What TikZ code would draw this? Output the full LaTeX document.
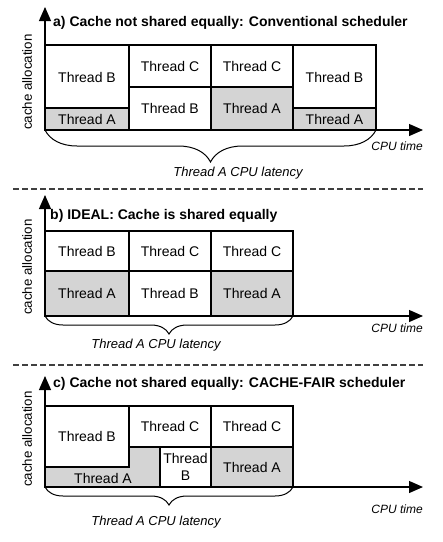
\documentclass[tikz,border=0pt]{standalone}
\usepackage{fontspec}
\setmainfont{Liberation Sans}
\usepackage{tikz}
\usetikzlibrary{arrows.meta,decorations.pathreplacing}

\begin{document}
\begin{tikzpicture}[x=1pt, y=-1pt,
    cell/.style={draw, line width=1.5pt},
    shaded/.style={cell, fill=black!17},
    axis/.style={line width=1.2pt, -{Triangle[length=14pt, width=12pt]}},
    thr/.style={font=\fontsize{14}{16.5}\selectfont, inner sep=0pt, align=center},
    ttl/.style={font=\bfseries\fontsize{14}{16}\selectfont, anchor=west, inner sep=0pt},
    ylab/.style={font=\fontsize{13.3}{15}\selectfont, rotate=90, anchor=west, inner sep=0pt},
    xlab/.style={font=\itshape\fontsize{12}{14}\selectfont, anchor=east, inner sep=0pt},
    lat/.style={font=\itshape\fontsize{13}{15}\selectfont, inner sep=0pt},
    sep/.style={line width=1.3pt, black!75, dash pattern=on 6pt off 3pt},
    brc/.style={decorate, line width=1pt, decoration={brace, amplitude=#1}}]
  \useasboundingbox (0,0) rectangle (443,542);

  % a) conventional scheduler
  \coordinate (oa) at (45,130);
  \coordinate (ya) at (45,7);
  \coordinate (xa) at (423,130);
  \coordinate (ea) at (376,130);
  \draw[cell] (45,45) rectangle (129,108);
  \draw[shaded] (45,108) rectangle (129,130);
  \draw[cell] (129,45) rectangle (211,87);
  \draw[cell] (129,87) rectangle (211,130);
  \draw[cell] (211,45) rectangle (293,87);
  \draw[shaded] (211,87) rectangle (293,130);
  \draw[cell] (293,45) rectangle (376,108);
  \draw[shaded] (293,108) rectangle (376,130);
  \node[thr] (a1b) at (87,77) {Thread B};
  \node[thr] (a1a) at (87,119) {Thread A};
  \node[thr] (a2c) at (170,66) {Thread C};
  \node[thr] (a2b) at (170,108.5) {Thread B};
  \node[thr] (a3c) at (252,66) {Thread C};
  \node[thr] (a3a) at (252,108.5) {Thread A};
  \node[thr] (a4b) at (334.5,77) {Thread B};
  \node[thr] (a4a) at (334.5,119) {Thread A};
  \draw[axis] (oa) -- (ya);
  \draw[axis] (oa) -- (xa);
  \node[ttl] (ta) at (53,23) {a) Cache not shared equally: Conventional scheduler};
  \node[ylab] (cacheA) at (27,130) {cache allocation};
  \node[xlab] (timeA) at (423,146) {CPU time};
  \draw[brc=32] (ea) -- (oa);
  \node[lat] (latA) at (238,173) {Thread A CPU latency};

  \draw[sep] (13,189) -- (423,189);

  % b) ideal
  \coordinate (ob) at (45,316);
  \coordinate (yb) at (45,195);
  \coordinate (xb) at (423,316);
  \coordinate (eb) at (293,316);
  \draw[cell] (45,231) rectangle (129,271);
  \draw[shaded] (45,271) rectangle (129,316);
  \draw[cell] (129,231) rectangle (211,271);
  \draw[cell] (129,271) rectangle (211,316);
  \draw[cell] (211,231) rectangle (293,271);
  \draw[shaded] (211,271) rectangle (293,316);
  \node[thr] (b1b) at (87,251) {Thread B};
  \node[thr] (b1a) at (87,293.5) {Thread A};
  \node[thr] (b2c) at (170,251) {Thread C};
  \node[thr] (b2b) at (170,293.5) {Thread B};
  \node[thr] (b3c) at (252,251) {Thread C};
  \node[thr] (b3a) at (252,293.5) {Thread A};
  \draw[axis] (ob) -- (yb);
  \draw[axis] (ob) -- (xb);
  \node[ttl] (tb) at (50,216) {b) IDEAL: Cache is shared equally};
  \node[ylab] (cacheB) at (27,315) {cache allocation};
  \node[xlab] (timeB) at (423,328) {CPU time};
  \draw[brc=18] (eb) -- (ob);
  \node[lat] (latB) at (156,345) {Thread A CPU latency};

  \draw[sep] (13,365) -- (423,365);

  % c) cache-fair scheduler
  \coordinate (oc) at (45,487);
  \coordinate (yc) at (45,376);
  \coordinate (xc) at (423,487);
  \coordinate (ec) at (293,487);
  \draw[shaded] (45,467) -- (129,467) -- (129,447) -- (160,447) -- (160,487) -- (45,487) -- cycle;
  \draw[cell] (45,406) rectangle (129,467);
  \draw[cell] (129,406) rectangle (211,447);
  \draw[cell] (160,447) rectangle (211,487);
  \draw[cell] (211,406) rectangle (293,447);
  \draw[shaded] (211,447) rectangle (293,487);
  \node[thr] (c1b) at (87,436.5) {Thread B};
  \node[thr] (c1a) at (103,478) {Thread A};
  \node[thr] (c2c) at (170,426.5) {Thread C};
  \node[thr] (c2b) at (185.5,467) {Thread\\B};
  \node[thr] (c3c) at (252,426.5) {Thread C};
  \node[thr] (c3a) at (252,467) {Thread A};
  \draw[axis] (oc) -- (yc);
  \draw[axis] (oc) -- (xc);
  \node[ttl] (tc) at (53,384) {c) Cache not shared equally: CACHE-FAIR scheduler};
  \node[ylab] (cacheC) at (27,487) {cache allocation};
  \node[xlab] (timeC) at (423,509) {CPU time};
  \draw[brc=18] (ec) -- (oc);
  \node[lat] (latC) at (156,522) {Thread A CPU latency};
\end{tikzpicture}
\end{document}
